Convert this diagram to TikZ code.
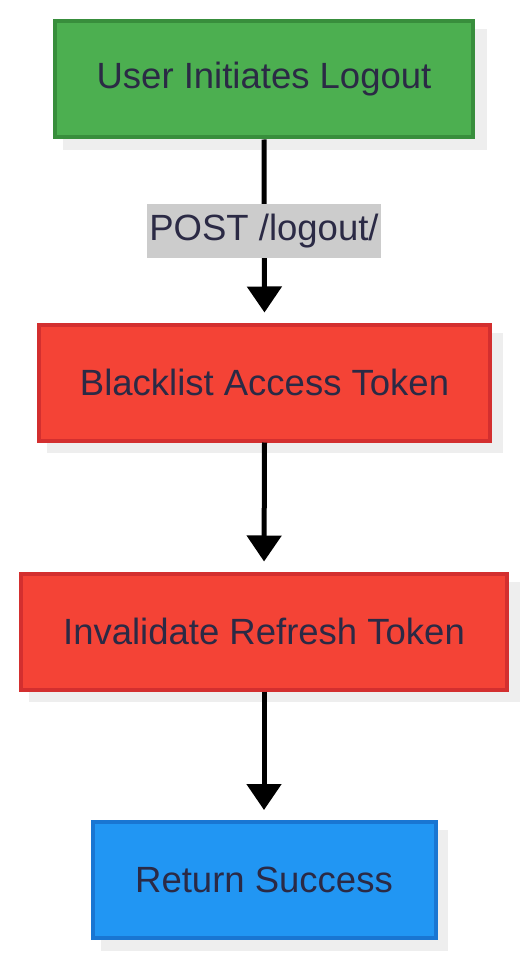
\documentclass[tikz,border=0pt]{standalone}
\usepackage{fontspec}
\setmainfont{Liberation Sans}
\usetikzlibrary{arrows.meta}
\definecolor{txt}{HTML}{2B2A45}
\definecolor{gfill}{HTML}{4CAF50}
\definecolor{gline}{HTML}{388E3C}
\definecolor{rfill}{HTML}{F44336}
\definecolor{rline}{HTML}{D32F2F}
\definecolor{bfill}{HTML}{2196F3}
\definecolor{bline}{HTML}{1976D2}
\definecolor{shadowgray}{HTML}{EEEEEE}
\definecolor{lblbg}{HTML}{CCCCCC}
\tikzset{
  box/.style={rectangle, line width=4pt, minimum height=116pt, text=txt,
    font=\fontsize{36.5pt}{40pt}\selectfont, inner sep=0pt},
  boxshadow/.style={fill=shadowgray, draw=none},
  conn/.style={line width=5pt, -{Triangle[width=34pt,length=26pt]}, shorten >=10pt},
  lbl/.style={fill=lblbg, text=txt, font=\fontsize{36.5pt}{40pt}\selectfont,
    inner xsep=2pt, minimum height=54pt}
}
\begin{document}
\begin{tikzpicture}[x=1pt,y=-1pt]
\useasboundingbox (0,0) rectangle (529,960);
% shadows
\path[boxshadow] (63,29) rectangle (487,150);
\path[boxshadow] (47,333) rectangle (503,453);
\path[boxshadow] (29,582) rectangle (520,702);
\path[boxshadow] (101,830) rectangle (448,951);
% boxes
\node[box, fill=gfill, draw=gline, minimum width=418pt] (n1) at (264,79.5) {User Initiates Logout};
\node[box, fill=rfill, draw=rline, minimum width=451pt] (n2) at (264.5,382.5) {Blacklist Access Token};
\node[box, fill=rfill, draw=rline, minimum width=486pt] (n3) at (264,631.5) {Invalidate Refresh Token};
\node[box, fill=bfill, draw=bline, minimum width=343pt] (n4) at (264,880) {Return Success};
% connectors
\draw[conn] (n1.south) -- (n2.north);
\draw[conn] (n2.south) -- (n3.north);
\draw[conn] (n3.south) -- (n4.north);
\node[lbl] (l1) at (264,231) {POST /logout/};
\end{tikzpicture}
\end{document}
